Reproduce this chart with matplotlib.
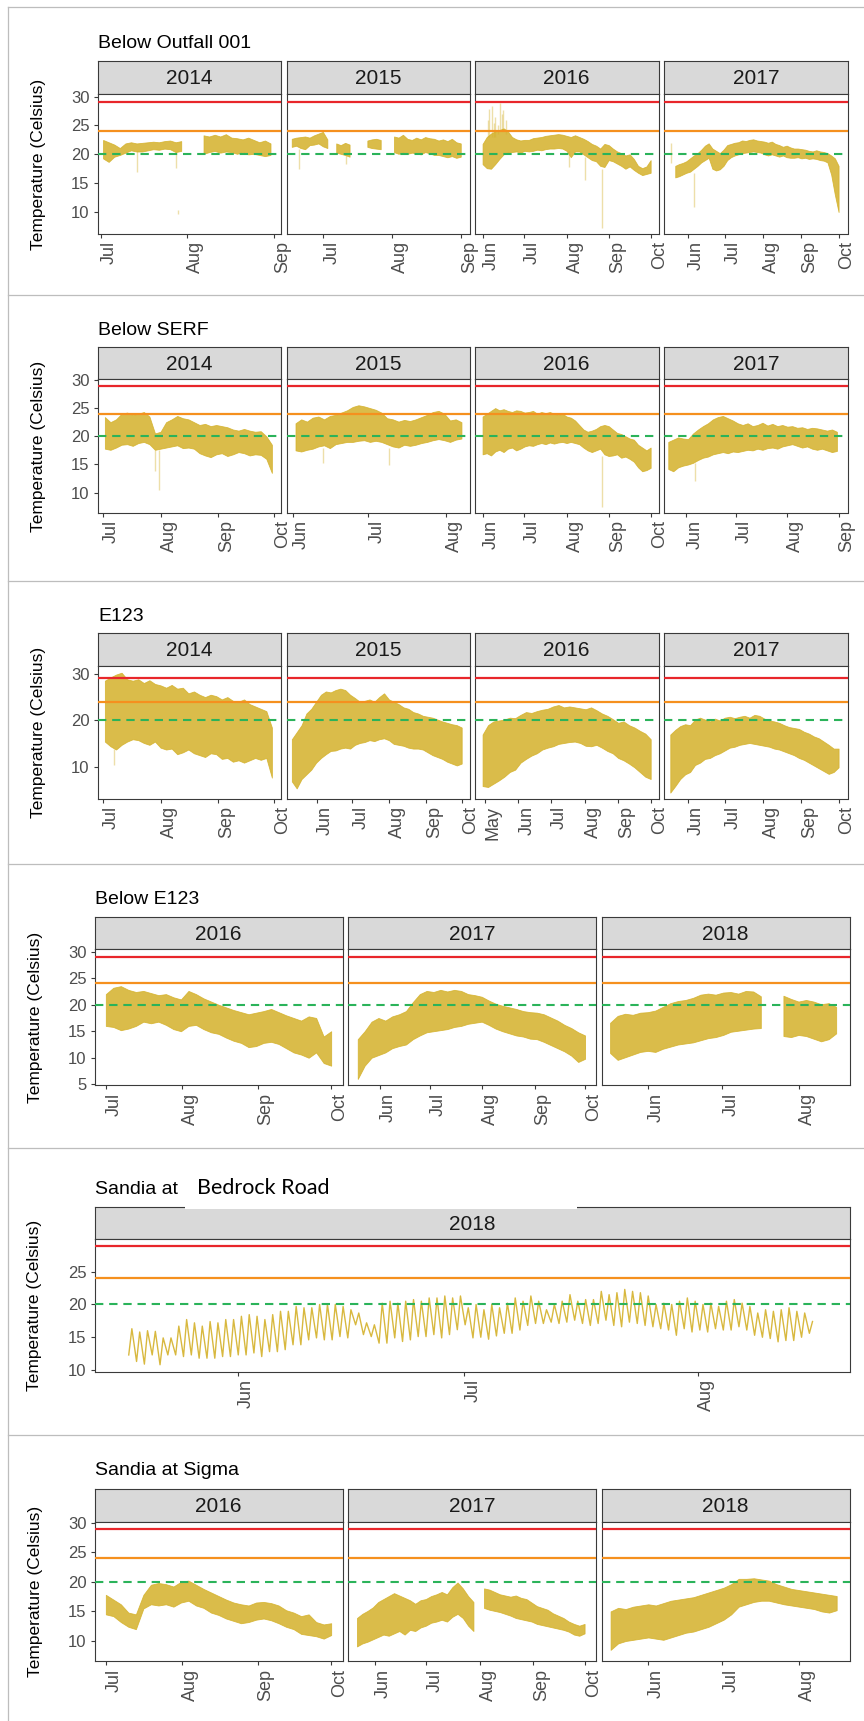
import numpy as np
import matplotlib
matplotlib.use("Agg")
import matplotlib.pyplot as plt
import matplotlib.dates as mdates
from matplotlib.lines import Line2D
from matplotlib.patches import Rectangle

plt.rcParams['font.family'] = ['Liberation Sans', 'DejaVu Sans']
nan = np.nan

# ------------------------------------------------------------------ data
# Reference levels (Celsius)
LEVEL_RED = 29
LEVEL_ORANGE = 24
LEVEL_GREEN = 20

# ---- Below Outfall 001 ----
P1_2014_SPAN = ('2014-07-02', '2014-08-31')
P1_2014_HI = [22.4, 22.0, 21.6, 21.0, 21.8, 22.0, 21.8, 21.9, 22.0, 22.1, 22.0, 22.2, 22.3, 22.0, 22.2,
              nan, nan, nan, 23.2, 23.0, 23.3, 23.0, 23.4, 22.8, 22.7, 22.5, 22.8, 22.4, 22.0, 22.3, 21.8]
P1_2014_LO = [19.2, 18.6, 19.5, 19.8, 20.2, 20.6, 20.4, 20.4, 20.6, 20.8, 20.7, 20.9, 20.8, 20.3, 20.5,
              nan, nan, nan, 20.0, 20.3, 20.5, 20.2, 20.4, 20.3, 20.0, 20.3, 19.9, 20.0, 19.8, 19.6, 19.8]
P1_2014_SPIKES = [('2014-07-14', 16.9, 20.5), ('2014-07-28', 17.6, 20.5), ('2014-07-28T12', 9.6, 10.3)]

P1_2015_SPAN = ('2015-06-17', '2015-09-01')
P1_2015_HI = [22.6, 22.8, 22.9, 23.0, 22.8, 23.2, 23.5, 23.8, 22.5, nan, 21.8, 21.5, 21.9, 21.6, nan, nan, nan,
              22.3, 22.5, 22.6, 22.4, nan, nan, 23.0, 22.8, 23.3, 22.6, 22.4, 22.8, 22.5, 22.9, 22.7, 22.6,
              22.3, 22.5, 22.2, 22.6, 22.0, 21.8]
P1_2015_LO = [21.2, 21.4, 21.0, 20.8, 21.5, 21.6, 21.8, 21.3, 21.0, nan, 20.2, 20.0, 19.8, 19.5, nan, nan, nan,
              21.2, 21.0, 20.9, 20.8, nan, nan, 20.3, 20.0, 20.2, 20.0, 20.2, 20.1, 19.9, 20.3, 20.1, 19.8,
              19.8, 19.6, 19.4, 19.6, 19.3, 19.5]
P1_2015_SPIKES = [('2015-06-20', 17.4, 21.0), ('2015-07-11', 18.3, 20.0)]

P1_2016_SPAN = ('2016-06-01', '2016-10-01')
P1_2016_HI = [21.8, 23.0, 23.6, 24.0, 24.2, 24.5, 24.0, 23.0, 22.6, 22.4, 22.5, 22.5, 22.8, 22.9, 23.0, 23.2,
              23.3, 23.4, 23.5, 23.4, 23.2, 23.0, 23.3, 23.0, 22.7, 22.3, 21.8, 21.5, 21.0, 21.8, 21.6, 21.0,
              20.5, 20.2, 19.8, 20.0, 19.2, 18.0, 17.6, 17.9, 19.0]
P1_2016_LO = [18.3, 17.6, 17.5, 18.3, 19.2, 20.0, 20.3, 20.4, 20.5, 20.3, 20.6, 20.5, 20.6, 20.8, 20.7, 20.9,
              21.0, 21.0, 21.1, 21.0, 20.6, 19.5, 20.5, 20.5, 20.0, 19.5, 19.0, 18.8, 18.0, 17.8, 19.0, 18.8,
              18.4, 18.0, 17.5, 17.9, 17.3, 16.8, 16.4, 16.6, 16.8]
P1_2016_SPIKES = [('2016-06-05', 23.0, 26.0), ('2016-06-06', 23.0, 27.8), ('2016-06-08', 23.0, 28.4),
                  ('2016-06-09', 23.0, 25.5), ('2016-06-10', 23.0, 26.5), ('2016-06-12', 23.5, 25.0),
                  ('2016-06-14', 24.0, 28.9), ('2016-06-15', 24.0, 27.0), ('2016-06-16', 24.0, 27.6),
                  ('2016-06-18', 23.5, 26.0), ('2016-08-03', 17.8, 20.5), ('2016-08-14', 15.5, 19.5),
                  ('2016-08-27', 7.2, 17.5)]

P1_2017_SPAN = ('2017-05-22', '2017-10-01')
P1_2017_HI = [18.0, 18.3, 18.5, 18.8, 19.3, 19.8, 20.2, 20.8, 21.5, 21.9, 21.0, 20.6, 20.2, 20.8, 21.6, 21.8,
              22.0, 22.1, 22.4, 22.3, 22.5, 22.6, 22.4, 22.3, 22.2, 22.0, 22.2, 21.8, 21.6, 21.3, 21.5, 21.2,
              21.0, 21.0, 20.9, 20.8, 20.6, 20.5, 20.7, 20.5, 20.4, 20.2, 19.8, 19.3, 18.0]
P1_2017_LO = [16.0, 16.2, 16.5, 16.8, 17.0, 17.5, 18.0, 18.6, 19.0, 19.4, 17.5, 17.2, 17.4, 18.0, 19.0, 19.5,
              19.8, 20.0, 20.2, 20.3, 20.4, 20.5, 20.4, 20.3, 20.0, 19.8, 20.0, 19.8, 19.6, 19.8, 19.5, 19.4,
              19.4, 19.5, 19.3, 19.4, 19.2, 19.3, 19.2, 19.0, 18.9, 18.6, 16.5, 13.0, 10.0]
P1_2017_SPIKES = [('2017-05-18T12', 18.5, 21.9), ('2017-06-06', 10.9, 16.8)]

# ---- Below SERF ----
P2_2014_SPAN = ('2014-07-02', '2014-09-30')
P2_2014_HI = [23.4, 22.5, 23.0, 24.0, 24.2, 23.8, 24.0, 24.3, 23.5, 20.5, 20.8, 22.5, 23.0, 23.6, 23.2, 23.0,
              22.5, 22.0, 22.2, 21.8, 22.0, 21.8, 21.6, 21.2, 21.0, 21.3, 21.0, 20.8, 20.9, 20.0, 18.5]
P2_2014_LO = [17.8, 17.6, 18.0, 18.5, 18.6, 18.3, 18.8, 19.0, 18.6, 17.6, 17.8, 18.0, 18.2, 18.4, 17.9, 18.0,
              17.8, 17.0, 16.6, 16.3, 16.8, 17.0, 16.5, 16.8, 17.2, 17.0, 16.6, 16.8, 16.7, 16.0, 13.5]
P2_2014_SPIKES = [('2014-07-31', 10.5, 17.6), ('2014-07-29', 13.8, 17.6)]

P2_2015_SPAN = ('2015-06-02', '2015-08-07')
P2_2015_HI = [22.3, 23.0, 22.6, 23.3, 23.5, 23.0, 23.6, 23.8, 24.2, 24.6, 25.2, 25.5, 25.3, 25.0, 24.7, 24.2,
              23.2, 23.0, 22.6, 22.9, 22.7, 23.0, 23.4, 23.8, 24.3, 24.5, 24.0, 22.8, 23.0, 22.5]
P2_2015_LO = [17.5, 17.3, 17.6, 17.8, 18.2, 18.4, 17.9, 18.6, 18.8, 19.0, 19.0, 19.2, 19.3, 19.0, 19.2, 19.0,
              18.6, 18.2, 18.0, 18.5, 18.3, 18.5, 18.8, 19.0, 19.3, 19.5, 19.3, 19.0, 19.4, 19.6]
P2_2015_SPIKES = [('2015-06-13', 15.3, 18.0), ('2015-07-09', 14.9, 18.0)]

P2_2016_SPAN = ('2016-06-01', '2016-10-01')
P2_2016_HI = [23.5, 24.0, 24.5, 25.0, 24.6, 24.8, 24.5, 24.3, 24.6, 24.5, 24.2, 24.3, 24.5, 24.0, 24.3, 24.1,
              24.3, 24.0, 23.8, 24.0, 23.5, 23.3, 22.8, 22.0, 21.2, 20.8, 21.0, 21.3, 21.8, 22.0, 21.8, 21.2,
              20.6, 20.4, 20.0, 19.6, 19.4, 18.5, 18.0, 17.5, 18.0]
P2_2016_LO = [16.8, 17.0, 16.6, 17.3, 17.6, 17.2, 17.8, 18.0, 17.5, 17.8, 18.2, 18.4, 18.3, 18.6, 18.8, 18.6,
              18.9, 18.7, 18.9, 19.0, 18.8, 19.0, 18.8, 18.6, 18.0, 17.5, 17.2, 17.5, 17.8, 16.8, 16.5, 16.6,
              16.8, 16.2, 16.4, 16.0, 15.5, 14.5, 13.8, 14.0, 14.4]
P2_2016_SPIKES = [('2016-08-27', 7.5, 16.5)]

P2_2017_SPAN = ('2017-05-21', '2017-08-31')
P2_2017_HI = [19.0, 19.4, 19.8, 19.6, 19.5, 20.5, 21.2, 21.8, 22.3, 23.0, 23.4, 23.6, 23.2, 22.8, 22.3, 22.0,
              22.3, 21.8, 22.0, 22.4, 21.9, 22.2, 21.8, 22.0, 21.7, 21.8, 21.5, 21.6, 21.3, 21.5, 21.4, 21.2,
              21.0, 21.2, 20.8]
P2_2017_LO = [14.2, 13.8, 14.5, 14.8, 15.0, 15.3, 15.8, 16.2, 16.4, 16.8, 17.0, 17.2, 17.0, 17.3, 17.2, 17.4,
              17.6, 17.5, 17.8, 17.6, 17.9, 18.0, 17.8, 18.2, 18.4, 18.6, 18.3, 18.0, 18.2, 17.8, 17.6, 17.8,
              17.5, 17.2, 17.4]
P2_2017_SPIKES = [('2017-06-06', 12.0, 15.3)]

# ---- E123 ----
P3_2014_SPAN = ('2014-07-02', '2014-09-30')
P3_2014_HI = [28.5, 29.2, 29.8, 30.2, 28.8, 28.5, 28.8, 28.0, 28.6, 27.8, 27.5, 27.0, 27.6, 26.8, 27.0, 25.8,
              26.2, 25.5, 25.0, 25.5, 25.2, 24.5, 25.0, 24.2, 24.0, 24.5, 23.5, 23.0, 22.5, 22.0, 18.5]
P3_2014_LO = [15.5, 14.5, 13.8, 14.8, 15.5, 16.0, 15.8, 15.2, 14.8, 15.5, 14.2, 13.8, 14.0, 12.8, 13.2, 13.8,
              13.0, 12.6, 12.2, 13.0, 12.8, 11.8, 12.0, 11.2, 11.5, 11.0, 11.5, 12.0, 11.6, 12.0, 7.8]
P3_2014_SPIKES = [('2014-07-07', 10.5, 14.0)]

P3_2015_SPAN = ('2015-05-11', '2015-10-01')
P3_2015_HI = [16.0, 17.5, 19.0, 21.5, 22.5, 24.0, 25.5, 26.2, 26.0, 26.5, 26.8, 26.5, 25.5, 24.8, 24.0, 24.2,
              24.5, 24.0, 25.0, 25.8, 24.5, 24.0, 23.5, 22.8, 22.5, 21.8, 21.5, 21.0, 20.8, 20.6, 20.2, 19.8,
              19.5, 19.2, 19.0, 18.5]
P3_2015_LO = [7.0, 5.5, 7.5, 8.5, 9.5, 11.0, 12.0, 12.8, 13.5, 13.6, 14.0, 14.2, 14.0, 14.8, 15.2, 15.4,
              15.8, 15.6, 16.0, 16.2, 15.8, 15.0, 14.8, 14.6, 14.2, 14.0, 14.0, 13.8, 13.2, 12.6, 12.2, 11.8,
              11.2, 10.8, 10.4, 10.8]
P3_2015_SPIKES = []

P3_2016_SPAN = ('2016-04-29', '2016-10-01')
P3_2016_HI = [17.0, 19.0, 19.8, 20.0, 20.2, 20.6, 20.5, 21.2, 21.8, 21.6, 22.0, 22.3, 22.5, 23.0, 23.3, 22.8,
              23.0, 22.8, 22.6, 22.4, 22.8, 22.2, 21.5, 21.0, 20.3, 19.5, 19.8, 19.0, 18.5, 17.8, 17.2, 16.0]
P3_2016_LO = [6.0, 5.8, 6.5, 7.2, 8.0, 9.0, 9.5, 11.0, 11.8, 12.5, 13.0, 13.8, 14.2, 14.5, 15.0, 15.2,
              15.4, 15.5, 15.2, 14.6, 14.5, 14.8, 14.2, 13.5, 13.0, 12.0, 11.5, 10.8, 10.0, 9.0, 8.0, 7.5]
P3_2016_SPIKES = []

P3_2017_SPAN = ('2017-05-18', '2017-10-01')
P3_2017_HI = [17.0, 18.0, 18.8, 19.2, 19.0, 20.2, 20.6, 20.2, 19.8, 20.4, 20.0, 20.6, 20.8, 20.5, 20.8, 21.0,
              20.6, 21.2, 21.0, 20.4, 20.0, 19.8, 19.5, 19.0, 18.6, 18.4, 18.2, 17.6, 17.2, 16.6, 16.2, 15.5,
              14.8, 14.0, 14.0]
P3_2017_LO = [4.6, 6.0, 7.5, 8.5, 9.0, 10.5, 11.0, 11.8, 12.0, 12.6, 13.0, 13.6, 14.2, 14.4, 14.8, 15.0,
              15.2, 15.0, 14.8, 14.6, 14.4, 14.0, 13.8, 13.4, 13.0, 12.6, 12.0, 11.6, 11.0, 10.4, 9.8, 9.2,
              8.6, 9.0, 10.0]
P3_2017_SPIKES = []

# ---- Below E123 ----
P4_2016_SPAN = ('2016-07-01', '2016-10-01')
P4_2016_HI = [22.0, 23.2, 23.5, 22.8, 22.4, 22.6, 22.2, 21.8, 22.0, 21.4, 21.0, 22.6, 22.0, 21.2, 20.6, 20.0,
              19.5, 19.0, 18.6, 18.2, 18.5, 18.8, 19.2, 18.6, 18.0, 17.5, 17.0, 17.8, 17.5, 14.0, 15.0]
P4_2016_LO = [16.0, 15.8, 15.2, 15.5, 16.0, 16.8, 16.5, 16.8, 16.2, 15.4, 15.0, 16.0, 16.2, 15.4, 14.8, 14.5,
              13.8, 13.2, 12.8, 12.0, 12.2, 12.8, 13.0, 12.6, 11.8, 11.0, 10.6, 10.0, 11.0, 9.0, 8.5]

P4_2017_SPAN = ('2017-05-19', '2017-10-01')
P4_2017_HI = [13.5, 15.0, 16.8, 17.5, 17.0, 17.8, 18.2, 18.8, 20.5, 22.0, 22.6, 22.4, 22.8, 22.5, 22.8, 22.6,
              22.0, 21.8, 21.5, 20.8, 20.2, 19.8, 19.5, 19.2, 18.8, 18.6, 18.5, 18.2, 17.6, 17.0, 16.2, 15.6,
              14.8, 14.2]
P4_2017_LO = [6.0, 8.5, 10.0, 10.5, 11.0, 11.8, 12.2, 12.5, 13.5, 14.2, 14.8, 15.0, 15.2, 15.4, 15.8, 16.0,
              16.4, 16.6, 16.8, 16.2, 15.5, 15.0, 14.6, 14.2, 14.0, 13.6, 13.5, 13.0, 12.4, 11.8, 11.2, 10.4,
              9.2, 9.8]

P4_2018_SPAN = ('2018-05-17', '2018-08-16')
P4_2018_HI = [16.5, 17.8, 18.2, 18.0, 18.4, 18.5, 18.8, 19.5, 20.2, 20.6, 20.8, 21.2, 21.8, 22.0, 21.8, 22.2,
              22.3, 22.0, 22.5, 22.4, 21.5, nan, nan, 21.6, 21.0, 20.5, 20.8, 20.5, 20.0, 20.2, 19.5]
P4_2018_LO = [10.8, 9.5, 10.0, 10.5, 11.0, 11.2, 11.0, 11.6, 12.0, 12.4, 12.6, 12.8, 13.2, 13.6, 13.8, 14.2,
              14.8, 15.0, 15.2, 15.4, 15.5, nan, nan, 14.0, 13.8, 14.2, 14.0, 13.5, 13.0, 13.4, 14.5]

# ---- Sandia at Bedrock Road (daily max / min) ----
P5_2018_SPAN = ('2018-05-17T12', '2018-08-15T18')
P5_2018_MAX = [16.3, 15.8, 16.0, 15.9, 14.9, 14.9, 16.7, 17.7, 17.2, 16.7, 17.4, 17.2, 17.7, 17.7, 18.2, 18.45,
               18.2, 17.7, 18.45, 18.96, 18.96, 19.7, 19.5, 19.5, 20.0, 20.0, 20.0, 19.7, 19.2, 18.7, 17.2, 16.9,
               20.2, 20.5, 20.2, 20.5, 20.75, 20.5, 21.0, 21.0, 21.3, 21.0, 21.3, 19.5, 20.0,
               19.2, 20.0, 19.5, 20.2, 21.0, 20.5, 21.3, 20.5, 19.2, 20.0, 20.5, 21.5, 20.5, 20.75, 20.75, 22.0,
               21.5, 21.8, 22.3, 22.0, 21.8, 21.3, 20.0, 20.2, 20.0, 20.5, 21.0, 20.5, 20.0, 20.2, 19.7, 20.5,
               20.75, 20.2, 19.7, 18.7, 19.2, 18.96, 19.2, 19.5, 18.96, 18.7, 17.4]
P5_2018_MIN = [12.3, 11.3, 10.9, 12.3, 10.8, 12.3, 12.3, 12.05, 12.3, 11.8, 11.8, 11.8, 12.05, 12.05, 12.3, 12.3,
               12.6, 12.05, 12.8, 12.8, 13.1, 13.85, 13.85, 14.6, 14.9, 14.6, 14.6, 15.1, 14.9, 16.9, 15.4, 15.1,
               14.1, 14.1, 14.9, 14.35, 14.6, 15.1, 15.1, 15.4, 14.9, 15.4, 16.15, 16.9, 14.9,
               15.0, 14.7, 15.2, 15.6, 15.6, 16.1, 16.8, 17.1, 17.1, 17.3, 17.1, 17.3, 17.6, 17.1, 16.8, 17.1,
               17.6, 16.8, 16.6, 17.3, 17.1, 16.8, 16.6, 16.3, 16.1, 15.3, 16.3, 15.8, 16.1, 15.8, 16.3, 16.1,
               16.1, 16.6, 16.1, 15.3, 15.0, 14.8, 14.3, 14.5, 14.5, 15.0, 15.6]

# ---- Sandia at Sigma ----
P6_2016_SPAN = ('2016-07-01', '2016-10-01')
P6_2016_HI = [17.8, 17.0, 16.2, 14.8, 14.5, 17.8, 19.5, 19.8, 19.6, 19.2, 20.0, 20.2, 19.5, 18.8, 18.2, 17.6,
              17.0, 16.5, 16.2, 16.0, 16.5, 16.6, 16.4, 16.0, 15.2, 14.8, 14.2, 14.5, 13.2, 12.8, 13.0]
P6_2016_LO = [14.5, 14.2, 13.2, 12.4, 12.0, 15.5, 16.2, 16.0, 16.2, 15.8, 16.5, 16.8, 16.0, 15.6, 14.8, 14.4,
              13.8, 13.4, 13.0, 13.2, 13.6, 13.8, 13.5, 13.0, 12.4, 12.0, 11.2, 11.0, 10.8, 10.4, 11.0]

P6_2017_SPAN = ('2017-05-22', '2017-10-01')
P6_2017_HI = [13.8, 14.5, 15.0, 15.6, 16.5, 17.0, 17.5, 18.0, 17.6, 17.2, 16.8, 16.2, 16.8, 17.0, 17.5, 17.8,
              18.2, 17.8, 19.0, 19.8, 18.8, 17.5, 16.5, nan, 18.8, 18.6, 18.2, 17.8, 17.6, 17.4, 17.6, 17.2,
              17.0, 16.4, 15.8, 15.5, 15.2, 14.6, 14.2, 13.8, 13.2, 12.8, 12.5, 12.8]
P6_2017_LO = [9.0, 9.5, 9.8, 10.2, 10.6, 11.0, 10.8, 11.2, 11.6, 11.0, 11.8, 11.6, 12.2, 12.5, 13.0, 13.2,
              13.5, 13.2, 14.0, 14.5, 13.8, 12.5, 11.6, nan, 15.5, 15.2, 15.0, 14.8, 14.5, 14.2, 13.8, 13.6,
              13.4, 13.2, 12.8, 12.6, 12.4, 12.2, 12.0, 11.8, 11.5, 11.0, 10.8, 11.2]

P6_2018_SPAN = ('2018-05-17', '2018-08-16')
P6_2018_HI = [15.0, 15.6, 15.4, 15.8, 16.0, 16.2, 16.0, 16.4, 16.8, 17.0, 17.2, 17.4, 17.8, 18.2, 18.6, 19.0,
              19.6, 20.5, 20.5, 20.6, 20.4, 20.2, 19.6, 19.2, 18.8, 18.6, 18.4, 18.2, 18.0, 17.8, 17.6]
P6_2018_LO = [8.5, 9.6, 10.0, 10.2, 10.4, 10.6, 10.4, 10.2, 10.6, 11.0, 11.4, 11.6, 12.0, 12.4, 13.0, 13.6,
              14.5, 15.8, 16.2, 16.6, 16.8, 16.8, 16.5, 16.2, 16.0, 15.8, 15.6, 15.4, 15.0, 14.8, 15.2]

# ------------------------------------------------------------------ styling / layout
W, H = 864, 1721
GOLD = '#D4B12A'
RED = '#E8262B'
ORANGE = '#F5901E'
GREEN = '#2BB35A'
FRAME = '#3A3A3A'
TICKCOL = '#4D4D4D'

COLS4 = [(98, 281), (286.5, 469.5), (475, 658.5), (664, 847.5)]
COLS3 = [(94.8, 342.7), (348, 596), (601.7, 849.6)]
COLS1 = [(94.8, 849.6)]

PANELS = [
    dict(title='Below Outfall 001', tx=98, ty=47.7, strip=(60.7, 94.3), bottom=234.0, cols=COLS4,
         ylim=(6.19, 30.4), yticks=[10, 15, 20, 25, 30], ylab_x=38.5,
         facets=[('2014', ('2014-06-30T00', '2014-09-03T14'), 'band', P1_2014_SPAN, P1_2014_HI, P1_2014_LO, P1_2014_SPIKES),
                 ('2015', ('2015-06-14T10', '2015-09-04T17'), 'band', P1_2015_SPAN, P1_2015_HI, P1_2015_LO, P1_2015_SPIKES),
                 ('2016', ('2016-05-26T12', '2016-10-06T17'), 'band', P1_2016_SPAN, P1_2016_HI, P1_2016_LO, P1_2016_SPIKES),
                 ('2017', ('2017-05-12T22', '2017-10-08T05'), 'band', P1_2017_SPAN, P1_2017_HI, P1_2017_LO, P1_2017_SPIKES)]),
    dict(title='Below SERF', tx=98, ty=335.0, strip=(346.7, 379.3), bottom=512.7, cols=COLS4,
         ylim=(6.45, 30.1), yticks=[10, 15, 20, 25, 30], ylab_x=38.5,
         facets=[('2014', ('2014-06-28T07', '2014-10-04T22'), 'band', P2_2014_SPAN, P2_2014_HI, P2_2014_LO, P2_2014_SPIKES),
                 ('2015', ('2015-05-29T10', '2015-08-10T05'), 'band', P2_2015_SPAN, P2_2015_HI, P2_2015_LO, P2_2015_SPIKES),
                 ('2016', ('2016-05-26T12', '2016-10-06T17'), 'band', P2_2016_SPAN, P2_2016_HI, P2_2016_LO, P2_2016_SPIKES),
                 ('2017', ('2017-05-18T10', '2017-09-06T10'), 'band', P2_2017_SPAN, P2_2017_HI, P2_2017_LO, P2_2017_SPIKES)]),
    dict(title='E123', tx=98, ty=620.7, strip=(633.0, 665.7), bottom=798.7, cols=COLS4,
         ylim=(3.3, 31.7), yticks=[10, 20, 30], ylab_x=38.5,
         facets=[('2014', ('2014-06-28T07', '2014-10-04T22'), 'band', P3_2014_SPAN, P3_2014_HI, P3_2014_LO, P3_2014_SPIKES),
                 ('2015', ('2015-05-06T12', '2015-10-07T14'), 'band', P3_2015_SPAN, P3_2015_HI, P3_2015_LO, P3_2015_SPIKES),
                 ('2016', ('2016-04-22T00', '2016-10-08T05'), 'band', P3_2016_SPAN, P3_2016_HI, P3_2016_LO, P3_2016_SPIKES),
                 ('2017', ('2017-05-12T22', '2017-10-08T05'), 'band', P3_2017_SPAN, P3_2017_HI, P3_2017_LO, P3_2017_SPIKES)]),
    dict(title='Below E123', tx=94.8, ty=904.4, strip=(916.7, 949.3), bottom=1085.3, cols=COLS3,
         ylim=(4.8, 30.45), yticks=[5, 10, 15, 20, 25, 30], ylab_x=36,
         facets=[('2016', ('2016-06-26T12', '2016-10-05T17'), 'band', P4_2016_SPAN, P4_2016_HI, P4_2016_LO, []),
                 ('2017', ('2017-05-13T05', '2017-10-07T12'), 'band', P4_2017_SPAN, P4_2017_HI, P4_2017_LO, []),
                 ('2018', ('2018-05-13T10', '2018-08-21T05'), 'band', P4_2018_SPAN, P4_2018_HI, P4_2018_LO, [])]),
    dict(title='Sandia at', tx=94.8, ty=1194.4, strip=(1207.3, 1239.3), bottom=1371.7, cols=COLS1,
         ylim=(9.74, 29.95), yticks=[10, 15, 20, 25], ylab_x=35,
         facets=[('2018', ('2018-05-13T00', '2018-08-21T02'), 'zigzag', P5_2018_SPAN, P5_2018_MAX, P5_2018_MIN, [])]),
    dict(title='Sandia at Sigma', tx=94.8, ty=1475.4, strip=(1488.7, 1522.0), bottom=1661.3, cols=COLS3,
         ylim=(6.57, 30.1), yticks=[10, 15, 20, 25, 30], ylab_x=36,
         facets=[('2016', ('2016-06-26T12', '2016-10-05T17'), 'band', P6_2016_SPAN, P6_2016_HI, P6_2016_LO, []),
                 ('2017', ('2017-05-16T12', '2017-10-07T08'), 'band', P6_2017_SPAN, P6_2017_HI, P6_2017_LO, []),
                 ('2018', ('2018-05-13T10', '2018-08-21T05'), 'band', P6_2018_SPAN, P6_2018_HI, P6_2018_LO, [])]),
]

fig = plt.figure(figsize=(W / 100, H / 100), dpi=100)
fig.patch.set_facecolor('white')


def dn(s):
    return mdates.date2num(np.datetime64(s))


def month_starts(a, b):
    m0 = np.datetime64(a, 'M')
    m1 = np.datetime64(b, 'M') + 1
    out = []
    for m in np.arange(m0, m1):
        d = np.datetime64(m, 'D')
        if np.datetime64(a) <= d <= np.datetime64(b):
            out.append(d)
    return out


def ax_at(x0, x1, y0, y1):
    return fig.add_axes([x0 / W, 1 - y1 / H, (x1 - x0) / W, (y1 - y0) / H])


for p in PANELS:
    sy0, sy1 = p['strip']
    for i, (lab, xl, kind, span, hi, lo, spikes) in enumerate(p['facets']):
        x0, x1 = p['cols'][i]
        # strip
        sax = ax_at(x0, x1, sy0, sy1)
        sax.set_facecolor('#D9D9D9')
        sax.set_xticks([]); sax.set_yticks([])
        for s in sax.spines.values():
            s.set_color(FRAME); s.set_linewidth(0.8)
        sax.text(0.5, 0.46, lab, transform=sax.transAxes, ha='center', va='center',
                 fontsize=15, color='#1A1A1A')
        # panel
        ax = ax_at(x0, x1, sy1, p['bottom'])
        ax.set_facecolor('white')
        for s in ax.spines.values():
            s.set_color(FRAME); s.set_linewidth(0.8)
        t0, t1 = dn(span[0]), dn(span[1])
        hi = np.asarray(hi, float); lo = np.asarray(lo, float)
        if kind == 'band':
            t = np.linspace(t0, t1, len(hi))
            ax.fill_between(t, lo, hi, color=GOLD, alpha=0.85, lw=0.6, zorder=2)
            for (sd, a, b) in spikes:
                ax.vlines(dn(sd), a, b, color=GOLD, lw=1.0, alpha=0.4, zorder=2)
        else:
            tl = np.linspace(t0, t1, len(hi))
            step = tl[1] - tl[0]
            tt = np.column_stack([tl, tl + 0.4 * step]).ravel()
            vv = np.column_stack([lo, hi]).ravel()
            ax.plot(tt, vv, color=GOLD, lw=1.0, alpha=0.9, zorder=2)
        ax.axhline(LEVEL_RED, color=RED, lw=1.6, zorder=4)
        ax.axhline(LEVEL_ORANGE, color=ORANGE, lw=1.6, zorder=4)
        ax.axhline(LEVEL_GREEN, color=GREEN, lw=1.5, ls=(0, (4.0, 2.8)), zorder=4)
        a, b = dn(xl[0]), dn(xl[1])
        ax.set_xlim(a, b)
        ax.set_ylim(*p['ylim'])
        ms = month_starts(xl[0], xl[1])
        ax.set_xticks([mdates.date2num(m) for m in ms])
        ax.set_xticklabels([mdates.num2date(mdates.date2num(m)).strftime('%b') for m in ms],
                           rotation=90, ha='left', va='top')
        ax.tick_params(axis='x', direction='out', length=2.8, width=0.8, color=FRAME,
                       pad=2.5, labelsize=13, labelcolor=TICKCOL)
        ax.set_yticks(p['yticks'])
        ax.tick_params(axis='y', direction='out', length=2.6, width=0.8, color=FRAME,
                       pad=3.5, labelsize=12, labelcolor=TICKCOL)
        if i > 0:
            ax.tick_params(axis='y', left=False, labelleft=False)
    # titles
    fig.text(p['tx'] / W, 1 - p['ty'] / H, p['title'], ha='left', va='baseline', fontsize=14, color='black')
    fig.text(p['ylab_x'] / W, 1 - ((sy1 + p['bottom']) / 2) / H, 'Temperature (Celsius)', rotation=90,
             ha='center', va='center', fontsize=12.5, color='black')

# pasted second half of the Bedrock title, covering part of the strip outline
fig.add_artist(Rectangle((185 / W, 1 - 1209.0 / H), (577 - 185) / W, 3.5 / H, transform=fig.transFigure,
                         facecolor='white', edgecolor='none', zorder=10))
fig.text(197 / W, 1 - 1194.4 / H, 'Bedrock Road', ha='left', va='baseline', fontsize=15.5,
         family=['Lato', 'DejaVu Sans'], color='black', zorder=11)

# thin grey separators between the stacked plots
for yy in [7.3, 295.0, 580.7, 864.3, 1147.7, 1435.3]:
    fig.add_artist(Line2D([8.3 / W, 1.0], [1 - yy / H, 1 - yy / H], transform=fig.transFigure,
                          color='#BDBDBD', lw=0.9))
fig.add_artist(Line2D([8.3 / W, 8.3 / W], [1 - 7.3 / H, 0.0], transform=fig.transFigure,
                      color='#BDBDBD', lw=0.9))

fig.savefig('out.png', dpi=100)
